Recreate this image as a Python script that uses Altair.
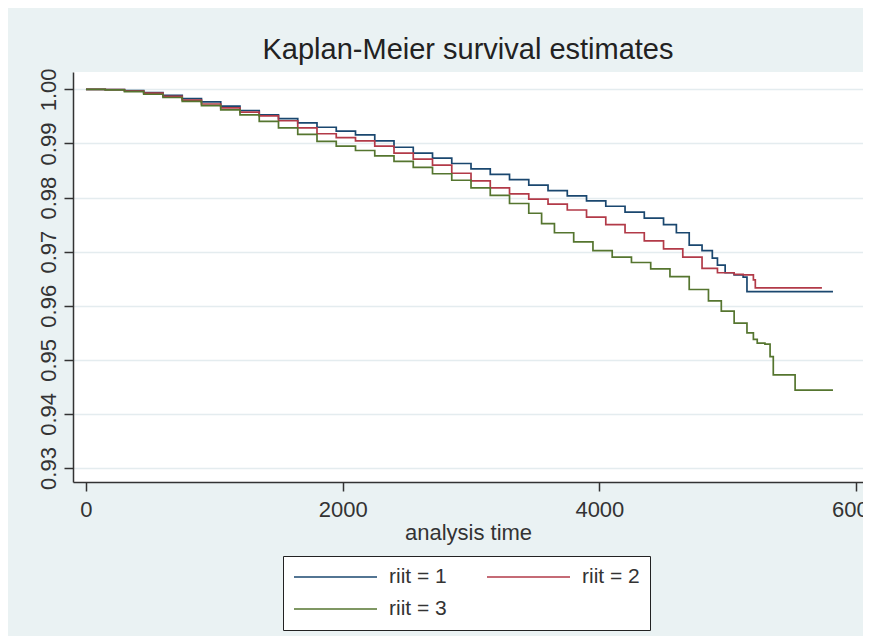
import altair as alt
import pandas as pd

# ---- data ----
series_names = ["riit = 1", "riit = 2", "riit = 3"]
series_colors = ["#1A476F", "#B23A48", "#55752F"]

t1 = [0, 150, 300, 450, 600, 750, 900, 1050, 1200, 1350, 1500, 1650, 1800, 1950,
      2100, 2250, 2400, 2550, 2700, 2850, 3000, 3150, 3300, 3450, 3600, 3750, 3900,
      4050, 4200, 4350, 4500, 4600, 4700, 4800, 4880, 4920, 4980, 5050, 5120, 5150, 5820]
s1 = [1.0000, 0.99995, 0.9998, 0.9994, 0.9989, 0.9983, 0.9977, 0.9969, 0.9961, 0.9953,
      0.9946, 0.9938, 0.9930, 0.9923, 0.9916, 0.9905, 0.9893, 0.9882, 0.9873, 0.9863,
      0.9853, 0.9843, 0.9833, 0.9823, 0.9813, 0.9803, 0.9794, 0.9784, 0.9773, 0.9762,
      0.9750, 0.9735, 0.9712, 0.9702, 0.9688, 0.9675, 0.9661, 0.9657, 0.9653, 0.9626, 0.9626]

t2 = [0, 150, 300, 450, 600, 750, 900, 1050, 1200, 1350, 1500, 1650, 1800, 1950,
      2100, 2250, 2400, 2550, 2700, 2850, 3000, 3150, 3300, 3450, 3600, 3750, 3900,
      4050, 4200, 4350, 4500, 4650, 4800, 4920, 5050, 5120, 5200, 5215, 5734]
s2 = [1.0000, 0.99995, 0.9997, 0.9993, 0.9987, 0.9980, 0.9973, 0.9966, 0.9958, 0.9951,
      0.9942, 0.9929, 0.9918, 0.9911, 0.9905, 0.9895, 0.9882, 0.9871, 0.9860, 0.9845,
      0.9831, 0.9818, 0.9807, 0.9797, 0.9788, 0.9777, 0.9764, 0.9750, 0.9735, 0.9720,
      0.9705, 0.9690, 0.9669, 0.9661, 0.9658, 0.9657, 0.9648, 0.9633, 0.9633]

t3 = [0, 150, 300, 450, 600, 750, 900, 1050, 1200, 1350, 1500, 1650, 1800, 1950,
      2100, 2250, 2400, 2550, 2700, 2850, 3000, 3150, 3300, 3450, 3550, 3650, 3800,
      3950, 4100, 4250, 4400, 4550, 4700, 4850, 4950, 5050, 5150, 5200, 5230, 5290,
      5330, 5355, 5525, 5820]
s3 = [1.0000, 0.9999, 0.9996, 0.9991, 0.9985, 0.9978, 0.9970, 0.9962, 0.9953, 0.9941,
      0.9929, 0.9917, 0.9904, 0.9895, 0.9887, 0.9877, 0.9867, 0.9856, 0.9844, 0.9832,
      0.9818, 0.9804, 0.9789, 0.9771, 0.9752, 0.9735, 0.9718, 0.9702, 0.9690, 0.9680,
      0.9668, 0.9654, 0.9630, 0.9609, 0.9590, 0.9568, 0.9550, 0.9538, 0.9531, 0.9529,
      0.9506, 0.9472, 0.9444, 0.9444]

x_ticks = [0, 2000, 4000, 6000]
y_ticks = [0.93, 0.94, 0.95, 0.96, 0.97, 0.98, 0.99, 1.00]

rows = []
for name, ts, ss in zip(series_names, [t1, t2, t3], [s1, s2, s3]):
    for t, s in zip(ts, ss):
        rows.append({"time": t, "surv": s, "group": name})
df = pd.DataFrame(rows)

FONT = "Liberation Sans, Arial, sans-serif"
TXT = "#333333"

chart = (
    alt.Chart(df)
    .mark_line(interpolate="step-after", strokeWidth=1.7)
    .encode(
        x=alt.X(
            "time:Q",
            scale=alt.Scale(domain=[-101, 6054], nice=False, zero=False),
            axis=alt.Axis(
                title="analysis time", values=x_ticks, format="d", grid=False,
                labelFontSize=22, titleFontSize=22, labelPadding=8, titlePadding=2,
                tickSize=9,
            ),
        ),
        y=alt.Y(
            "surv:Q",
            scale=alt.Scale(domain=[0.927412, 1.003217], nice=False, zero=False),
            axis=alt.Axis(
                title=None, values=y_ticks, format=".2f", grid=True,
                labelAngle=270, labelAlign="center", labelBaseline="bottom",
                labelFontSize=22, labelPadding=4, tickSize=9,
                gridColor="#E4ECEF", gridWidth=1.5,
            ),
        ),
        color=alt.Color(
            "group:N",
            scale=alt.Scale(domain=series_names, range=series_colors),
            legend=alt.Legend(
                title=None, orient="none", legendX=210, legendY=484, columns=2,
                direction="horizontal",
                symbolType="stroke", symbolSize=6889, symbolStrokeWidth=1.7,
                labelFontSize=21, labelFont=FONT, labelColor=TXT, labelOffset=11,
                columnPadding=39, rowPadding=10, clipHeight=22, padding=10,
                strokeColor="#222222", fillColor="white",
            ),
        ),
    )
    .properties(
        width=790,
        height=410,
        title=alt.TitleParams(
            "Kaplan-Meier survival estimates", fontSize=29, font=FONT,
            fontWeight="normal", color="#222222", anchor="middle", frame="group",
            offset=3,
        ),
        padding={"left": 65, "top": 64, "right": 0, "bottom": 154},
        autosize=alt.AutoSizeParams(type="none"),
        background="#EAF2F3",
    )
    .configure_view(fill="white", strokeWidth=0)
    .configure_axis(
        labelFont=FONT, titleFont=FONT, labelColor=TXT, titleColor=TXT,
        titleFontWeight="normal", domainColor="#333333", domainWidth=1.5,
        tickColor="#333333", tickWidth=1.5,
    )
)

chart.save("out.html", embed_options={"renderer": "svg", "actions": False})
